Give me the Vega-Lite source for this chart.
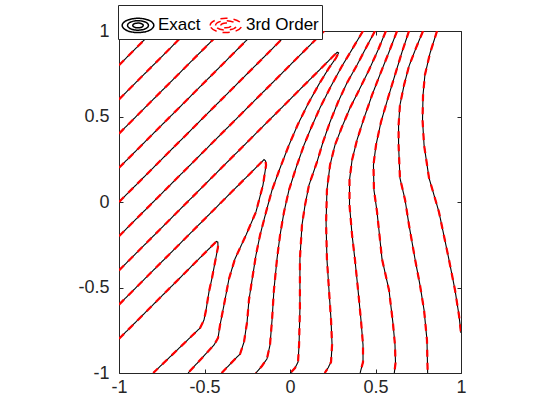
{
  "$schema": "https://vega.github.io/schema/vega-lite/v6.json",
  "width": 342,
  "height": 342,
  "autosize": {"type": "none"},
  "padding": {"left": 119, "top": 31, "right": 99, "bottom": 47},
  "background": "white",
  "config": {
    "view": {"stroke": "#262626", "strokeWidth": 1},
    "font": "Liberation Sans"
  },
  "data": {"values": [
    {"c":"s18","i":0,"x":-1,"y":0.8},{"c":"s18","i":1,"x":-0.8,"y":1},
    {"c":"s16","i":0,"x":-1,"y":0.6},{"c":"s16","i":1,"x":-0.6,"y":1},
    {"c":"s14","i":0,"x":-1,"y":0.4},{"c":"s14","i":1,"x":-0.4,"y":1},
    {"c":"s12","i":0,"x":-1,"y":0.2},{"c":"s12","i":1,"x":-0.2,"y":1},
    {"c":"s10","i":0,"x":-1,"y":0},{"c":"s10","i":1,"x":0,"y":1},
    {"c":"s08","i":0,"x":-1,"y":-0.2},{"c":"s08","i":1,"x":0.2,"y":1},
    {"c":"f06","i":0,"x":-1,"y":-0.4},{"c":"f06","i":1,"x":0.276,"y":0.876},{"c":"f06","i":2,"x":0.284,"y":0.872},{"c":"f06","i":3,"x":0.269,"y":0.842},{"c":"f06","i":4,"x":0.228,"y":0.784},{"c":"f06","i":5,"x":0.17,"y":0.69},{"c":"f06","i":6,"x":0.105,"y":0.573},{"c":"f06","i":7,"x":0.047,"y":0.456},{"c":"f06","i":8,"x":-0.006,"y":0.333},{"c":"f06","i":9,"x":-0.058,"y":0.199},{"c":"f06","i":10,"x":-0.105,"y":0.07},{"c":"f06","i":11,"x":-0.14,"y":-0.058},{"c":"f06","i":12,"x":-0.175,"y":-0.193},{"c":"f06","i":13,"x":-0.199,"y":-0.31},{"c":"f06","i":14,"x":-0.222,"y":-0.456},{"c":"f06","i":15,"x":-0.24,"y":-0.573},{"c":"f06","i":16,"x":-0.251,"y":-0.702},{"c":"f06","i":17,"x":-0.269,"y":-0.819},{"c":"f06","i":18,"x":-0.292,"y":-0.889},{"c":"f06","i":19,"x":-0.327,"y":-0.924},{"c":"f06","i":20,"x":-0.4,"y":-1},
    {"c":"f04","i":0,"x":-1,"y":-0.6},{"c":"f04","i":1,"x":-0.152,"y":0.248},{"c":"f04","i":2,"x":-0.143,"y":0.24},{"c":"f04","i":3,"x":-0.14,"y":0.216},{"c":"f04","i":4,"x":-0.158,"y":0.099},{"c":"f04","i":5,"x":-0.199,"y":-0.058},{"c":"f04","i":6,"x":-0.257,"y":-0.193},{"c":"f04","i":7,"x":-0.322,"y":-0.333},{"c":"f04","i":8,"x":-0.357,"y":-0.45},{"c":"f04","i":9,"x":-0.386,"y":-0.602},{"c":"f04","i":10,"x":-0.409,"y":-0.719},{"c":"f04","i":11,"x":-0.421,"y":-0.795},{"c":"f04","i":12,"x":-0.444,"y":-0.836},{"c":"f04","i":13,"x":-0.596,"y":-1},
    {"c":"f02","i":0,"x":-1,"y":-0.8},{"c":"f02","i":1,"x":-0.43,"y":-0.23},{"c":"f02","i":2,"x":-0.422,"y":-0.235},{"c":"f02","i":3,"x":-0.421,"y":-0.263},{"c":"f02","i":4,"x":-0.436,"y":-0.339},{"c":"f02","i":5,"x":-0.456,"y":-0.444},{"c":"f02","i":6,"x":-0.474,"y":-0.526},{"c":"f02","i":7,"x":-0.491,"y":-0.632},{"c":"f02","i":8,"x":-0.503,"y":-0.69},{"c":"f02","i":9,"x":-0.526,"y":-0.737},{"c":"f02","i":10,"x":-0.55,"y":-0.76},{"c":"f02","i":11,"x":-0.8,"y":-1},
    {"c":"r08","i":0,"x":0.427,"y":1},{"c":"r08","i":1,"x":0.368,"y":0.901},{"c":"r08","i":2,"x":0.304,"y":0.795},{"c":"r08","i":3,"x":0.24,"y":0.678},{"c":"r08","i":4,"x":0.175,"y":0.55},{"c":"r08","i":5,"x":0.123,"y":0.433},{"c":"r08","i":6,"x":0.082,"y":0.333},{"c":"r08","i":7,"x":0.035,"y":0.199},{"c":"r08","i":8,"x":-0.006,"y":0.07},{"c":"r08","i":9,"x":-0.035,"y":-0.058},{"c":"r08","i":10,"x":-0.058,"y":-0.193},{"c":"r08","i":11,"x":-0.076,"y":-0.333},{"c":"r08","i":12,"x":-0.094,"y":-0.515},{"c":"r08","i":13,"x":-0.105,"y":-0.69},{"c":"r08","i":14,"x":-0.117,"y":-0.836},{"c":"r08","i":15,"x":-0.135,"y":-0.918},{"c":"r08","i":16,"x":-0.164,"y":-0.959},{"c":"r08","i":17,"x":-0.2,"y":-1},
    {"c":"r10","i":0,"x":0.497,"y":1},{"c":"r10","i":1,"x":0.444,"y":0.901},{"c":"r10","i":2,"x":0.392,"y":0.801},{"c":"r10","i":3,"x":0.333,"y":0.696},{"c":"r10","i":4,"x":0.281,"y":0.585},{"c":"r10","i":5,"x":0.234,"y":0.468},{"c":"r10","i":6,"x":0.193,"y":0.351},{"c":"r10","i":7,"x":0.158,"y":0.234},{"c":"r10","i":8,"x":0.111,"y":0.099},{"c":"r10","i":9,"x":0.088,"y":-0.018},{"c":"r10","i":10,"x":0.07,"y":-0.135},{"c":"r10","i":11,"x":0.058,"y":-0.333},{"c":"r10","i":12,"x":0.058,"y":-0.626},{"c":"r10","i":13,"x":0.053,"y":-0.836},{"c":"r10","i":14,"x":0.047,"y":-0.936},{"c":"r10","i":15,"x":0.029,"y":-0.971},{"c":"r10","i":16,"x":0.003,"y":-1},
    {"c":"r12","i":0,"x":0.561,"y":1},{"c":"r12","i":1,"x":0.515,"y":0.889},{"c":"r12","i":2,"x":0.462,"y":0.772},{"c":"r12","i":3,"x":0.404,"y":0.655},{"c":"r12","i":4,"x":0.351,"y":0.55},{"c":"r12","i":5,"x":0.304,"y":0.439},{"c":"r12","i":6,"x":0.263,"y":0.333},{"c":"r12","i":7,"x":0.234,"y":0.216},{"c":"r12","i":8,"x":0.216,"y":0.07},{"c":"r12","i":9,"x":0.211,"y":-0.123},{"c":"r12","i":10,"x":0.216,"y":-0.333},{"c":"r12","i":11,"x":0.228,"y":-0.515},{"c":"r12","i":12,"x":0.24,"y":-0.69},{"c":"r12","i":13,"x":0.246,"y":-0.836},{"c":"r12","i":14,"x":0.24,"y":-0.936},{"c":"r12","i":15,"x":0.222,"y":-0.971},{"c":"r12","i":16,"x":0.203,"y":-1},
    {"c":"r14","i":0,"x":0.626,"y":1},{"c":"r14","i":1,"x":0.579,"y":0.877},{"c":"r14","i":2,"x":0.532,"y":0.76},{"c":"r14","i":3,"x":0.48,"y":0.626},{"c":"r14","i":4,"x":0.433,"y":0.491},{"c":"r14","i":5,"x":0.392,"y":0.363},{"c":"r14","i":6,"x":0.363,"y":0.246},{"c":"r14","i":7,"x":0.348,"y":0.129},{"c":"r14","i":8,"x":0.348,"y":-0.018},{"c":"r14","i":9,"x":0.363,"y":-0.193},{"c":"r14","i":10,"x":0.38,"y":-0.339},{"c":"r14","i":11,"x":0.398,"y":-0.515},{"c":"r14","i":12,"x":0.415,"y":-0.69},{"c":"r14","i":13,"x":0.427,"y":-0.836},{"c":"r14","i":14,"x":0.427,"y":-0.936},{"c":"r14","i":15,"x":0.41,"y":-1},
    {"c":"r16","i":0,"x":0.696,"y":1},{"c":"r16","i":1,"x":0.655,"y":0.877},{"c":"r16","i":2,"x":0.614,"y":0.743},{"c":"r16","i":3,"x":0.573,"y":0.608},{"c":"r16","i":4,"x":0.532,"y":0.468},{"c":"r16","i":5,"x":0.503,"y":0.333},{"c":"r16","i":6,"x":0.488,"y":0.216},{"c":"r16","i":7,"x":0.491,"y":0.07},{"c":"r16","i":8,"x":0.509,"y":-0.058},{"c":"r16","i":9,"x":0.538,"y":-0.333},{"c":"r16","i":10,"x":0.579,"y":-0.515},{"c":"r16","i":11,"x":0.602,"y":-0.708},{"c":"r16","i":12,"x":0.614,"y":-0.836},{"c":"r16","i":13,"x":0.617,"y":-0.942},{"c":"r16","i":14,"x":0.61,"y":-1},
    {"c":"r18","i":0,"x":0.778,"y":1},{"c":"r18","i":1,"x":0.737,"y":0.901},{"c":"r18","i":2,"x":0.696,"y":0.795},{"c":"r18","i":3,"x":0.667,"y":0.684},{"c":"r18","i":4,"x":0.643,"y":0.567},{"c":"r18","i":5,"x":0.635,"y":0.45},{"c":"r18","i":6,"x":0.635,"y":0.333},{"c":"r18","i":7,"x":0.643,"y":0.14},{"c":"r18","i":8,"x":0.673,"y":0.012},{"c":"r18","i":9,"x":0.696,"y":-0.135},{"c":"r18","i":10,"x":0.731,"y":-0.333},{"c":"r18","i":11,"x":0.76,"y":-0.485},{"c":"r18","i":12,"x":0.784,"y":-0.632},{"c":"r18","i":13,"x":0.801,"y":-0.807},{"c":"r18","i":14,"x":0.805,"y":-1},
    {"c":"r20","i":0,"x":0.86,"y":1},{"c":"r20","i":1,"x":0.819,"y":0.871},{"c":"r20","i":2,"x":0.789,"y":0.743},{"c":"r20","i":3,"x":0.778,"y":0.626},{"c":"r20","i":4,"x":0.775,"y":0.48},{"c":"r20","i":5,"x":0.784,"y":0.333},{"c":"r20","i":6,"x":0.813,"y":0.14},{"c":"r20","i":7,"x":0.871,"y":-0.058},{"c":"r20","i":8,"x":0.93,"y":-0.339},{"c":"r20","i":9,"x":0.965,"y":-0.515},{"c":"r20","i":10,"x":0.988,"y":-0.661},{"c":"r20","i":11,"x":1,"y":-0.766}
  ]},
  "layer": [
    {
      "mark": {"type": "line", "strokeWidth": 1.1, "clip": true},
      "encoding": {
        "x": {"field": "x", "type": "quantitative", "scale": {"domain": [-1, 1], "nice": false, "zero": false},
          "axis": {"orient": "bottom", "values": [-1, -0.5, 0, 0.5, 1], "title": null, "grid": false, "domain": false, "tickSize": -4, "tickColor": "#262626", "labelPadding": 9, "labelFontSize": 18, "labelColor": "#262626", "labelFlush": false, "labelOverlap": false, "labelExpr": "replace(format(datum.value, '~g'), '\u2212', '-')"}},
        "y": {"field": "y", "type": "quantitative", "scale": {"domain": [-1, 1], "nice": false, "zero": false},
          "axis": {"orient": "left", "values": [-1, -0.5, 0, 0.5, 1], "title": null, "grid": false, "domain": false, "tickSize": -4, "tickColor": "#262626", "labelPadding": 14, "labelFontSize": 18, "labelColor": "#262626", "labelFlush": false, "labelOverlap": false, "labelExpr": "replace(format(datum.value, '~g'), '\u2212', '-')"}},
        "detail": {"field": "c", "type": "nominal"},
        "order": {"field": "i", "type": "quantitative"},
        "color": {"datum": "Exact", "type": "nominal", "scale": {"domain": ["Exact", "3rd Order"], "range": ["#000000", "#ff0000"]},
          "legend": {"title": null, "orient": "none", "legendX": -1, "legendY": -26, "direction": "horizontal", "fillColor": "white", "strokeColor": "#262626", "padding": 3, "symbolType": "M -1 0 A 1 0.45 0 1 1 1 0 A 1 0.45 0 1 1 -1 0 M -0.66 0 A 0.66 0.3 0 1 1 0.66 0 A 0.66 0.3 0 1 1 -0.66 0 M -0.33 0 A 0.33 0.15 0 1 1 0.33 0 A 0.33 0.15 0 1 1 -0.33 0", "symbolSize": 1000, "symbolStrokeWidth": 1.5, "symbolFillColor": "transparent", "labelFontSize": 17, "labelColor": "#000000", "labelOffset": 3, "columnPadding": 6}},
        "strokeDash": {"datum": "Exact", "type": "nominal", "scale": {"domain": ["Exact", "3rd Order"], "range": [[1, 0], [7, 6]]},
          "legend": {"title": null, "orient": "none", "legendX": -1, "legendY": -26, "direction": "horizontal", "fillColor": "white", "strokeColor": "#262626", "padding": 3, "symbolType": "M -1 0 A 1 0.45 0 1 1 1 0 A 1 0.45 0 1 1 -1 0 M -0.66 0 A 0.66 0.3 0 1 1 0.66 0 A 0.66 0.3 0 1 1 -0.66 0 M -0.33 0 A 0.33 0.15 0 1 1 0.33 0 A 0.33 0.15 0 1 1 -0.33 0", "symbolSize": 1000, "symbolStrokeWidth": 1.5, "symbolFillColor": "transparent", "labelFontSize": 17, "labelColor": "#000000", "labelOffset": 3, "columnPadding": 6}}
      }
    },
    {
      "mark": {"type": "line", "strokeWidth": 2.2, "clip": true},
      "encoding": {
        "x": {"field": "x", "type": "quantitative", "scale": {"domain": [-1, 1], "nice": false, "zero": false},
          "axis": {"orient": "top", "values": [-1, -0.5, 0, 0.5, 1], "title": null, "grid": false, "domain": false, "labels": false, "tickSize": -4, "tickColor": "#262626"}},
        "y": {"field": "y", "type": "quantitative", "scale": {"domain": [-1, 1], "nice": false, "zero": false},
          "axis": {"orient": "right", "values": [-1, -0.5, 0, 0.5, 1], "title": null, "grid": false, "domain": false, "labels": false, "tickSize": -4, "tickColor": "#262626"}},
        "detail": {"field": "c", "type": "nominal"},
        "order": {"field": "i", "type": "quantitative"},
        "color": {"datum": "3rd Order", "type": "nominal"},
        "strokeDash": {"datum": "3rd Order", "type": "nominal"}
      }
    }
  ],
  "resolve": {"axis": {"x": "independent", "y": "independent"}}
}
